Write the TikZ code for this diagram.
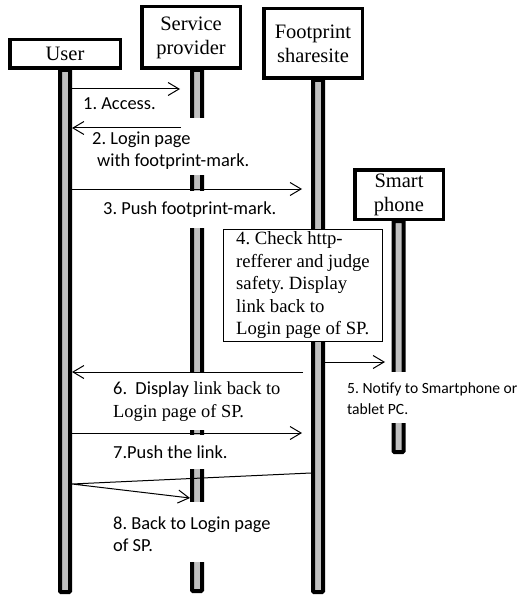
\documentclass[tikz,border=0pt]{standalone}
\usepackage{fontspec}
\setmainfont{Liberation Serif}
\newfontfamily\carl{Carlito}
\usetikzlibrary{arrows.meta}

\begin{document}
\frenchspacing
\begin{tikzpicture}[x=1pt,y=-1pt,
  hdr/.style={draw, line width=3.5pt, fill=white, inner sep=0pt, align=center,
    font=\fontsize{20.5}{24}\selectfont},
  bar/.style={draw, line width=4pt, fill=gray!50, rounded corners=1pt},
  msg/.style={line width=1pt, -{Straight Barb[length=11pt,width=13pt,line width=1pt]}},
  lbl/.style={anchor=west, inner sep=0pt, align=left,
    font=\carl\fontsize{18.4}{22}\selectfont},
  note/.style={draw, line width=1.2pt, fill=white, inner sep=0pt,
    align=left, minimum width=158.8pt, minimum height=111.8pt,
    font=\fontsize{18.7}{22.5}\selectfont},
  gap/.style={fill=white}]

\useasboundingbox (0,0) rectangle (520,596);

% lifelines
\draw[bar] (60,70) rectangle (70,592);
\draw[bar] (192,70) rectangle (202,591);
\draw[bar] (313,80) rectangle (323,592);
\draw[bar] (393.5,221) rectangle (403.5,452);

% breaks in the lifelines behind the labels
\fill[gap] (186,118) rectangle (208,175);
\fill[gap] (186,191) rectangle (208,228);
\fill[gap] (186,372) rectangle (208,430);
\fill[gap] (186,435) rectangle (208,469);
\fill[gap] (186,502) rectangle (208,562);
\fill[gap] (388,372) rectangle (410,423);

% participants
\node[hdr, minimum width=110.5pt, minimum height=28.5pt] (user) at (65,54) {User};
\node[hdr, minimum width=98.5pt, minimum height=61.5pt] (sp) at (191,37.5) {Service\\provider};
\node[hdr, minimum width=98.5pt, minimum height=69.5pt] (fs) at (313,43.5) {Footprint\\sharesite};
\node[hdr, minimum width=88.5pt, minimum height=49.5pt] (sm) at (399,194.5) {Smart\\phone};

% check performed by the share site
\node[note] (check) at (303,285.5) {4. Check http-\\refferer and judge\\safety. Display\\link back to\\Login page of SP.};

% message end points
\coordinate (a1s) at (72,89);   \coordinate (a1e) at (180,89);
\coordinate (a2s) at (181,128); \coordinate (a2e) at (72,128);
\coordinate (a3s) at (72,189);  \coordinate (a3e) at (302,189);
\coordinate (a5s) at (324,362); \coordinate (a5e) at (385,362);
\coordinate (a6s) at (303,372); \coordinate (a6e) at (72,372);
\coordinate (a7s) at (72,433);  \coordinate (a7e) at (302,433);
\coordinate (a8s) at (311,473); \coordinate (a8m) at (72,484); \coordinate (a8e) at (190,498);

% messages
\draw[msg] (a1s) -- (a1e);
\draw[msg] (a2s) -- (a2e);
\draw[msg] (a3s) -- (a3e);
\draw[msg] (a5s) -- (a5e);
\draw[msg] (a6s) -- (a6e);
\draw[msg] (a7s) -- (a7e);
\draw[msg] (a8s) -- (a8m) -- (a8e);

% message labels
\node[lbl] (l1) at (83,104) {1. Access.};
\node[lbl] (l2) at (92,151) {2. Login page\\\hspace{5pt}with footprint-mark.};
\node[lbl] (l3) at (103,210) {3. Push footprint-mark.};
\node[lbl, font=\carl\fontsize{15.6}{21}\selectfont] (l5) at (347,398.5) {5. Notify to Smartphone or\\tablet PC.};
\node[lbl, font=\fontsize{18.4}{23}\selectfont] (l6) at (113,401.5) {{\carl 6.\ \ Display} link back to\\Login page of SP.};
\node[lbl] (l7) at (113,452) {7.Push the link.};
\node[lbl] (l8) at (113,534) {8. Back to Login page\\of SP.};
\end{tikzpicture}
\end{document}
